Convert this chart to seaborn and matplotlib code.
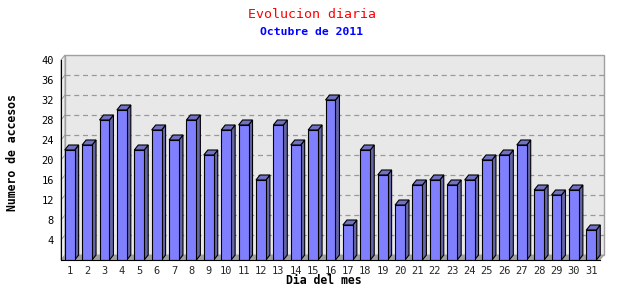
import matplotlib
matplotlib.use("Agg")
import matplotlib.pyplot as plt
import seaborn as sns
import numpy as np
import pandas as pd
from matplotlib.patches import Polygon, Rectangle
from matplotlib.lines import Line2D

days = [str(d) for d in range(1, 32)]
visits = [22, 23, 28, 30, 22, 26, 24, 28, 21, 26, 27, 16, 27, 23, 26, 32,
          7, 22, 17, 11, 15, 16, 15, 16, 20, 21, 23, 14, 13, 14, 6]
yticks = [4, 8, 12, 16, 20, 24, 28, 32, 36, 40]
title = "Evolucion diaria"
subtitle = "Octubre de 2011"
xlabel = "Dia del mes"
ylabel = "Numero de accesos"

FRONT = "#8080ff"
SIDE = "#6565a8"
TOP = "#7272c4"
WALL = "#e8e8e8"
WALL_EDGE = "#a0a0a0"
FLOOR = "#a0a0a0"
MONO = "DejaVu Sans Mono"

sns.set_style("white")
plt.rcParams["font.family"] = [MONO, "DejaVu Sans"]

W, H = 640, 300
fig = plt.figure(figsize=(6.4, 3.0), dpi=100)
left, right, bottom, top = 61, 600, 260, 60
ax = fig.add_axes([left / W, (H - bottom) / H, (right - left) / W, (bottom - top) / H])
ax.patch.set_alpha(0)

df = pd.DataFrame({"dia": days, "accesos": visits})
sns.barplot(data=df, x="dia", y="accesos", color=FRONT, saturation=1,
            width=0.57, edgecolor="black", linewidth=0.8, ax=ax, zorder=4)

xmin, xmax = -0.5, len(days) - 0.5
ax.set_xlim(xmin, xmax)
ax.set_ylim(0, 40)

# depth offsets (pixels -> data)
px_x = (right - left) / (xmax - xmin)
px_y = (bottom - top) / 40.0
dx = 4.0 / px_x
dy = 5.0 / px_y

# back wall
ax.add_patch(Rectangle((xmin + dx, dy), xmax - xmin, 40, facecolor=WALL,
                       edgecolor=WALL_EDGE, linewidth=1, zorder=0, clip_on=False))
# left wall
ax.add_patch(Polygon([(xmin, 0), (xmin + dx, dy), (xmin + dx, 40 + dy), (xmin, 40)],
                     closed=True, facecolor="#eeeeee", edgecolor=WALL_EDGE,
                     linewidth=0.8, zorder=0.5, clip_on=False))
# floor
ax.add_patch(Polygon([(xmin, 0), (xmax, 0), (xmax + dx, dy), (xmin + dx, dy)],
                     closed=True, facecolor=FLOOR, edgecolor=FLOOR,
                     linewidth=0.5, zorder=1, clip_on=False))
# grid on back wall
for v in yticks[:-1]:
    ax.add_line(Line2D([xmin + dx, xmax + dx], [v + dy, v + dy], color="#999999",
                       linewidth=0.9, dashes=(4, 3), zorder=1, clip_on=False))
    ax.add_line(Line2D([xmin, xmin + dx], [v, v + dy], color="#999999",
                       linewidth=0.7, zorder=1, clip_on=False))

# 3D faces of bars
for p in list(ax.patches):
    if not isinstance(p, Rectangle) or p.get_facecolor()[:3] != matplotlib.colors.to_rgb(FRONT):
        continue
    x0, w, h = p.get_x(), p.get_width(), p.get_height()
    x1 = x0 + w
    ax.add_patch(Polygon([(x1, 0), (x1 + dx, dy), (x1 + dx, h + dy), (x1, h)],
                         closed=True, facecolor=SIDE, edgecolor="black",
                         linewidth=0.8, zorder=3.5, clip_on=False))
    ax.add_patch(Polygon([(x0, h), (x0 + dx, h + dy), (x1 + dx, h + dy), (x1, h)],
                         closed=True, facecolor=TOP, edgecolor="black",
                         linewidth=0.8, zorder=3.5, clip_on=False))

for s in ["top", "right"]:
    ax.spines[s].set_visible(False)
for s in ["left", "bottom"]:
    ax.spines[s].set_color("black")
    ax.spines[s].set_linewidth(0.8)
    ax.spines[s].set_zorder(5)

ax.set_yticks(yticks)
ax.set_yticklabels([str(v) for v in yticks], fontsize=7.5, family=MONO)
ax.tick_params(axis="y", direction="out", length=3, width=0.8, pad=2, colors="black")
ax.set_xticks(range(len(days)))
ax.set_xticklabels(days, fontsize=7.5, family=MONO)
ax.tick_params(axis="x", which="major", length=0, pad=4)
ax.set_xticks(np.arange(len(days)) + 0.5, minor=True)
ax.tick_params(axis="x", which="minor", direction="out", length=3, width=0.8)
ax.set_xlabel("")
ax.set_ylabel("")

fig.text(312 / W, 1 - 14 / H, title, color="red", fontsize=9.5, family=MONO,
         ha="center", va="center")
fig.text(312 / W, 1 - 32 / H, subtitle, color="blue", fontsize=8.2, family=MONO,
         fontweight="bold", ha="center", va="center")
fig.text(324 / W, 1 - 281 / H, xlabel, color="black", fontsize=8.3, family=MONO,
         fontweight="bold", ha="center", va="center")
fig.text(13 / W, 1 - 153 / H, ylabel, color="black", fontsize=8.3, family=MONO,
         fontweight="bold", ha="center", va="center", rotation=90)

fig.savefig("out.png", dpi=100, facecolor="white")
